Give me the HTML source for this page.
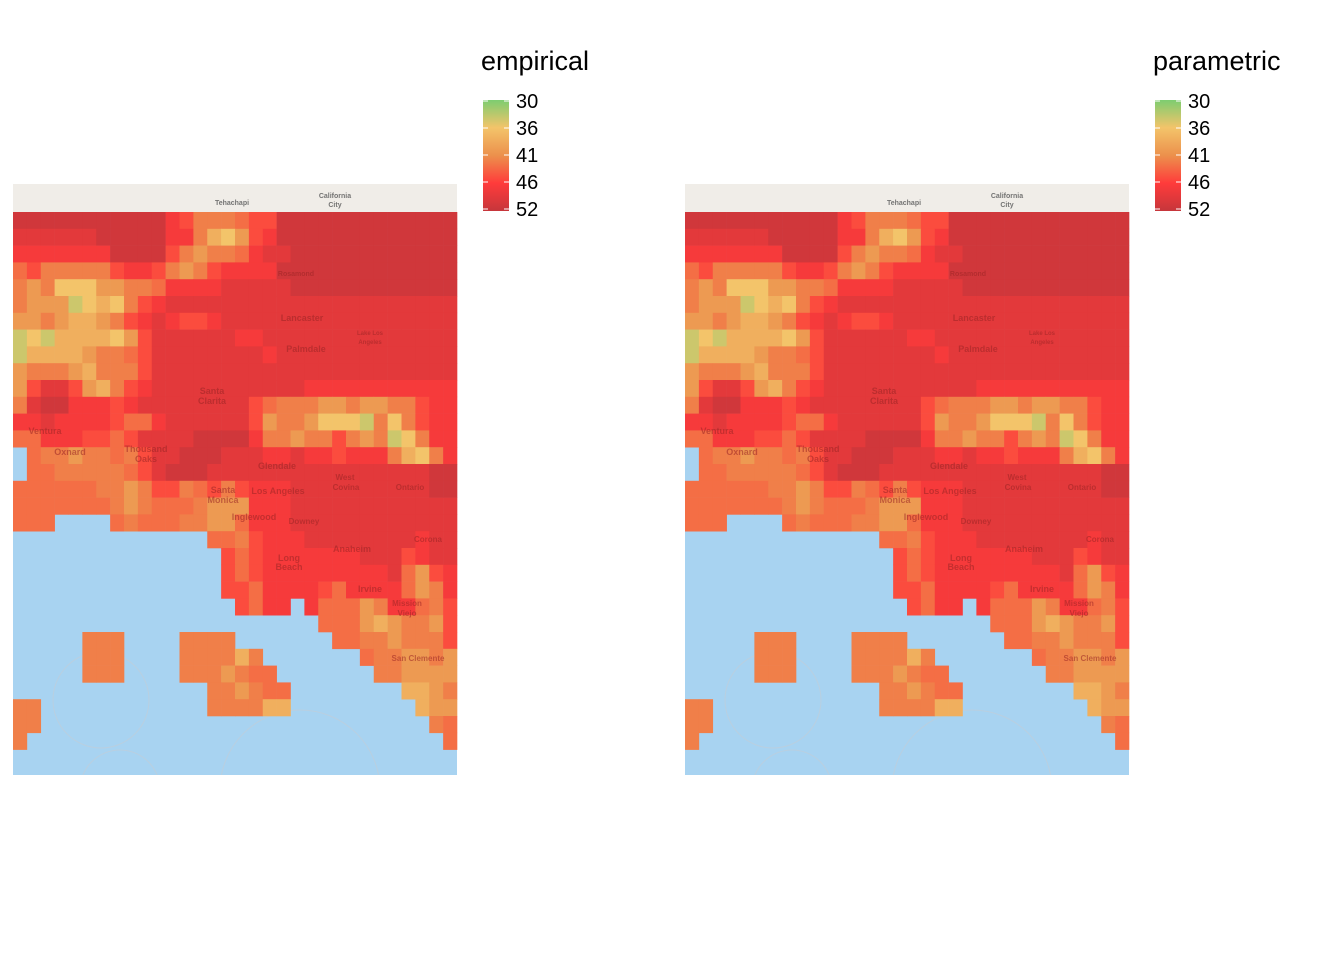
<!DOCTYPE html>
<html><head><meta charset="utf-8">
<style>
html,body{margin:0;padding:0;background:#fff;}
svg{display:block;font-family:"Liberation Sans",sans-serif;}
</style></head>
<body>
<svg id="chart" width="1344" height="960" viewBox="0 0 1344 960"></svg>
<script>
// value scale breaks
const legendTicks = [30, 36, 41, 46, 52];
const legendColors = ["#7dcd70", "#f3c46a", "#ec904c", "#ff3b3b", "#c6363b"];
// value codes per cell ('.' = no data / ocean)
const codeValues = {P:32,Q:34,R:36,S:38,T:40,U:42,V:43,W:45,X:47,Y:49,Z:51};
const empiricalRows = [
"ZZZZZZZZZZZXWUUUVWWZZZZZZZZZZZZZ",
"YYYYYYZZZZZXXUSRTWXZZZZZZZZZZZZZ",
"XXXXXXXZZZZWUTUUVXYYZZZZZZZZZZZZ",
"VWUUUUUWXXWUTUWXXXXZZZZZZZZZZZZZ",
"UTURRRTTUUVXXXXYYYYYZZZZZZZZZZZZ",
"UTTTQRSRUWXYYYYYYYYYYYYYYYYYYYYY",
"TTUTSSTUWXYXWWXYYYYYYYYYYYYYYYYY",
"QRQSSSSRTWYYYYYYXXYYYYYYYYYYYYYY",
"QSSSSTUUVWYYYYYYYYXYYYYYYYYYYYYY",
"TUUUTSUUUWYYYYYYYYYYYYYYYYYYYYYY",
"TWYYWTSUWXYYYYYYYYYYYXXXXXXXXXXX",
"UYZZXXXWXYYYYYYYYWVUUUTTUTTUUWXX",
"XXYXXXXWVVXYYYYYYWTUUTRRRQURUWXX",
"VVXXXWWVWYYYYZZZZXUUTUUWUTUQRUXX",
".VUUTUUVUWYYZZZYYYXXYXXWXXXUSRUX",
".VVUUUUUVWYZZZYYYYYYYYYYYYYYYYZZ",
"VVVVVVUUTUWWUVWUWXXXYYYYYYYYYYZZ",
"VVVVVVVUTUVVVUTTTXXXYYYYYYYYYYYY",
"VVV....VUVVVUUTTVXXXYYYYYYYYYYYY",
"..............VVUWXXXYYYYYYYYXYY",
"...............WVWXXXXXXXYYYWXYY",
"...............WVWXXXXXXXXXYVTWX",
"...............WWVXXXXWVXXXXVTUX",
"................WVXX.XVVVTUXXVUW",
"......................VVVTSTUUTW",
".....UUU....UUUU.......VVUUTUUUW",
".....UUU....UUUUSU.......VUUTTUT",
".....UUU....UUUTUVV.......UUTTTT",
"..............UUTUVV........SSTU",
"UU............UUUUSS.........STT",
"UU............................UV",
"U..............................V"
];
const parametricRows = empiricalRows.slice();
const cityLabels = [["Rosamond",296,276,7],["Lancaster",302,321,9],["Lake Los",370,335,6],["Angeles",370,344,6],["Palmdale",306,352,9],["Santa",212,394,9],["Clarita",212,404,9],["Ventura",45,434,9],["Oxnard",70,455,9],["Thousand",146,452,9],["Oaks",146,462,9],["Glendale",277,469,9],["West",345,480,8],["Covina",346,490,8],["Ontario",410,490,8],["Los Angeles",278,494,9],["Santa",223,493,9],["Monica",223,503,9],["Inglewood",254,520,9],["Downey",304,524,8],["Anaheim",352,552,9],["Corona",428,542,8],["Long",289,561,9],["Beach",289,570,9],["Irvine",370,592,9],["Mission",407,606,8],["Viejo",407,616,8],["San Clemente",418,661,8],["Tehachapi",232,205,7],["California",335,198,7],["City",335,207,7]];

const NS = "http://www.w3.org/2000/svg";
const svg = document.getElementById("chart");
function mk(tag, attrs, parent){const e=document.createElementNS(NS,tag);for(const k in attrs)e.setAttribute(k,attrs[k]);(parent||svg).appendChild(e);return e;}
function hex(c){return [1,3,5].map(i=>parseInt(c.substr(i,2),16));}
function colorScale(v){
  const t=legendTicks;
  if(v<=t[0])return legendColors[0];
  if(v>=t[t.length-1])return legendColors[legendColors.length-1];
  for(let i=0;i<t.length-1;i++){
    if(v<=t[i+1]){const f=(v-t[i])/(t[i+1]-t[i]);const a=hex(legendColors[i]),b=hex(legendColors[i+1]);
      return "rgb("+a.map((x,j)=>Math.round(x+(b[j]-x)*f)).join(",")+")";}
  }
}
const mapX0=13, mapW=444, mapY0=184, mapH=591, gridY0=212;
const nCols=32, nRows=32;
const cw=mapW/nCols, ch=16.8;
function xScale(c,off){return off+mapX0+c*cw;}
function yScale(r){return gridY0+r*ch;}

function panel(rows, off, title, key){
  const g=mk("g",{});
  
  
  const defs=mk("defs",{},g);
  const cp=mk("clipPath",{id:"clip"+key},defs);
  mk("rect",{x:off+mapX0,y:mapY0,width:mapW,height:mapH},cp);
  const ocean=mk("rect",{x:off+mapX0,y:mapY0,width:mapW,height:mapH,fill:"#a8d3f1"},g);
  
  
  const land=mk("rect",{x:off+mapX0,y:mapY0,width:mapW,height:gridY0-mapY0,fill:"#f0ede8"},g);
  
  
  const lines=mk("g",{"clip-path":"url(#clip"+key+")"},g);
  [[101,700,48],[260,520,45],[300,790,80],[120,790,40]].forEach(c=>{
    const ci=mk("circle",{cx:off+c[0],cy:c[1],r:c[2],fill:"none",stroke:"#b9cfe0","stroke-width":1},lines);
    
    
  });
  const cells=mk("g",{},g);
  
  
  rows.forEach((row,r)=>{
    for(let c=0;c<nCols;c++){
      const code=row[c];
      if(code==="."||code===undefined)continue;
      const v=codeValues[code];
      const rc=mk("rect",{x:xScale(c,off).toFixed(2),y:yScale(r).toFixed(2),width:(cw+0.3).toFixed(2),height:(ch+0.3).toFixed(2),fill:colorScale(v)},cells);
      
      
    }
  });
  cityLabels.forEach(l=>{
    const t=mk("text",{x:off+l[1],y:l[2],"font-size":l[3],"text-anchor":"middle",fill:l[2]<212?"#666":"#9a2525","fill-opacity":l[2]<212?0.9:0.55,"font-weight":"bold"},g);
    t.textContent=l[0];
    
    
  });
  // legend
  const lx=off+481;
  const tt=mk("text",{x:lx,y:70,"font-size":27,fill:"#000"},g);
  tt.textContent=title;
  
  
  const gid="grad"+key;
  const lg=mk("linearGradient",{id:gid,x1:0,y1:0,x2:0,y2:1},defs);
  const bTop=101,bBot=209;
  legendTicks.forEach((t,i)=>{
    mk("stop",{offset:i/(legendTicks.length-1),"stop-color":legendColors[i]},lg);
  });
  const bar=mk("rect",{x:off+483,y:bTop-1,width:26,height:bBot-bTop+3,fill:"url(#"+gid+")"},g);
  
  
  legendTicks.forEach((t,i)=>{
    const y=bTop+i/(legendTicks.length-1)*(bBot-bTop);
    const lab=mk("text",{x:off+516,y:y+7,"font-size":20,fill:"#000"},g);
    lab.textContent=t;
    
    
    const tk1=mk("line",{x1:off+483,x2:off+488,y1:y,y2:y,stroke:"#fff","stroke-width":1},g);
    
    
    const tk2=mk("line",{x1:off+504,x2:off+509,y1:y,y2:y,stroke:"#fff","stroke-width":1},g);
    
    
  });
}
panel(empiricalRows,0,"empirical","empirical");
panel(parametricRows,672,"parametric","parametric");
</script>
</body></html>
